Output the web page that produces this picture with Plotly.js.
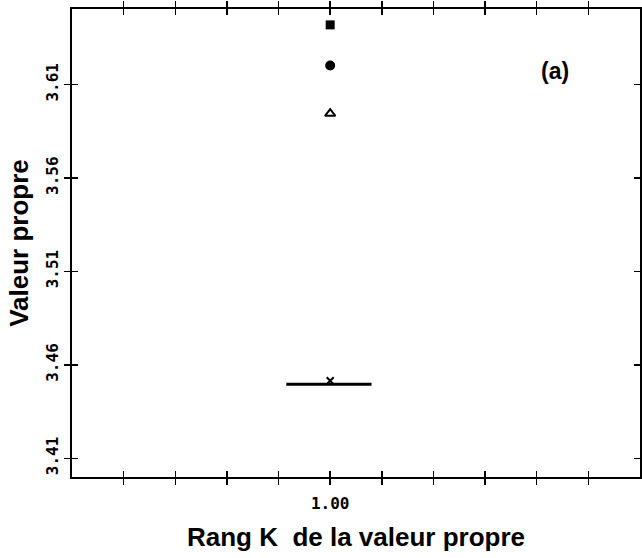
<!DOCTYPE html>
<html>
<head>
<meta charset="utf-8">
<script src="https://cdn.plot.ly/plotly-3.0.1.min.js"></script>
<style>html,body{margin:0;padding:0;background:#fff;}#chart{width:642px;height:558px;}</style>
</head>
<body>
<div id="chart"></div>
<script>
// ---- data ----
const rangK = [1.00];
const valeurCarre = [3.642];
const valeurCercle = [3.6203];
const valeurTriangle = [3.5945];
const valeurCroix = [3.4515];
const ligneX = [0.915, 1.08];
const ligneY = [3.4497, 3.4497];
const xTickVals = [0.6, 0.7, 0.8, 0.9, 1.0, 1.1, 1.2, 1.3, 1.4, 1.5];
const xTickText = ["", "", "", "", "1.00", "", "", "", "", ""];
const yTickVals = [3.41, 3.46, 3.51, 3.56, 3.61];
const yTickText = ["3.41", "3.46", "3.51", "3.56", "3.61"];
const xRange = [0.5, 1.6];
const yRange = [3.40, 3.6505];

const tickFont = {family: "DejaVu Sans Mono", size: 16, color: "#000", weight: "bold"};
const titleFamily = "Liberation Sans, Arial, sans-serif";

const traces = [
  {x: ligneX, y: ligneY, mode: "lines", line: {color: "#000", width: 3}, hoverinfo: "skip", showlegend: false},
  {x: rangK, y: valeurCroix, mode: "markers", marker: {symbol: "x-thin-open", size: 7, color: "#000", line: {width: 2, color: "#000"}}, showlegend: false},
  {x: rangK, y: valeurTriangle, mode: "markers", marker: {symbol: "triangle-up-open", size: 9, color: "#000", line: {width: 2, color: "#000"}}, showlegend: false},
  {x: rangK, y: valeurCercle, mode: "markers", marker: {symbol: "circle", size: 10, color: "#000"}, showlegend: false},
  {x: rangK, y: valeurCarre, mode: "markers", marker: {symbol: "square", size: 9, color: "#000"}, showlegend: false},
  {x: [], y: [], xaxis: "x2", yaxis: "y2", mode: "markers", showlegend: false, hoverinfo: "skip"}
];

const layout = {
  width: 642, height: 558,
  margin: {l: 72, r: 2, t: 9, b: 81},
  paper_bgcolor: "#fff", plot_bgcolor: "#fff",
  showlegend: false,
  xaxis: {
    range: xRange, tickmode: "array", tickvals: xTickVals, ticktext: xTickText,
    ticks: "outside", ticklen: 6, tickwidth: 1.5, tickcolor: "#000",
    showline: true, linecolor: "#000", linewidth: 2, mirror: "ticks",
    showgrid: false, zeroline: false, tickfont: tickFont, ticklabelstandoff: 5,
    title: {text: "Rang K\u00a0 de la valeur propre", font: {family: titleFamily, size: 26, color: "#000", weight: "bold"}, standoff: 16},
    automargin: false
  },
  yaxis: {
    range: yRange, tickmode: "array", tickvals: yTickVals, ticktext: yTickText, tickangle: -90,
    ticks: "outside", ticklen: 6, tickwidth: 1.5, tickcolor: "#000",
    showline: true, linecolor: "#000", linewidth: 2, mirror: true,
    showgrid: false, zeroline: false, tickfont: tickFont,
    title: {text: "Valeur propre", font: {family: titleFamily, size: 26, color: "#000", weight: "bold"}, standoff: 6},
    automargin: false
  },
  xaxis2: {
    overlaying: "x", anchor: "y2", range: xRange, tickmode: "array", tickvals: xTickVals,
    ticks: "inside", ticklen: 6, tickwidth: 1.5, tickcolor: "#000", mirror: "ticks",
    showline: false, showgrid: false, zeroline: false, showticklabels: false
  },
  yaxis2: {
    overlaying: "y", anchor: "x2", range: yRange, tickmode: "array", tickvals: yTickVals,
    ticks: "inside", ticklen: 6, tickwidth: 1.5, tickcolor: "#000", mirror: "ticks",
    showline: false, showgrid: false, zeroline: false, showticklabels: false
  },
  annotations: [{
    text: "(a)", xref: "paper", yref: "paper", x: 0.85, y: 0.868,
    xanchor: "center", yanchor: "middle",
    showarrow: false, font: {family: titleFamily, size: 23, color: "#000", weight: "bold"}
  }]
};

Plotly.newPlot("chart", traces, layout, {staticPlot: true, displayModeBar: false});
</script>
</body>
</html>
